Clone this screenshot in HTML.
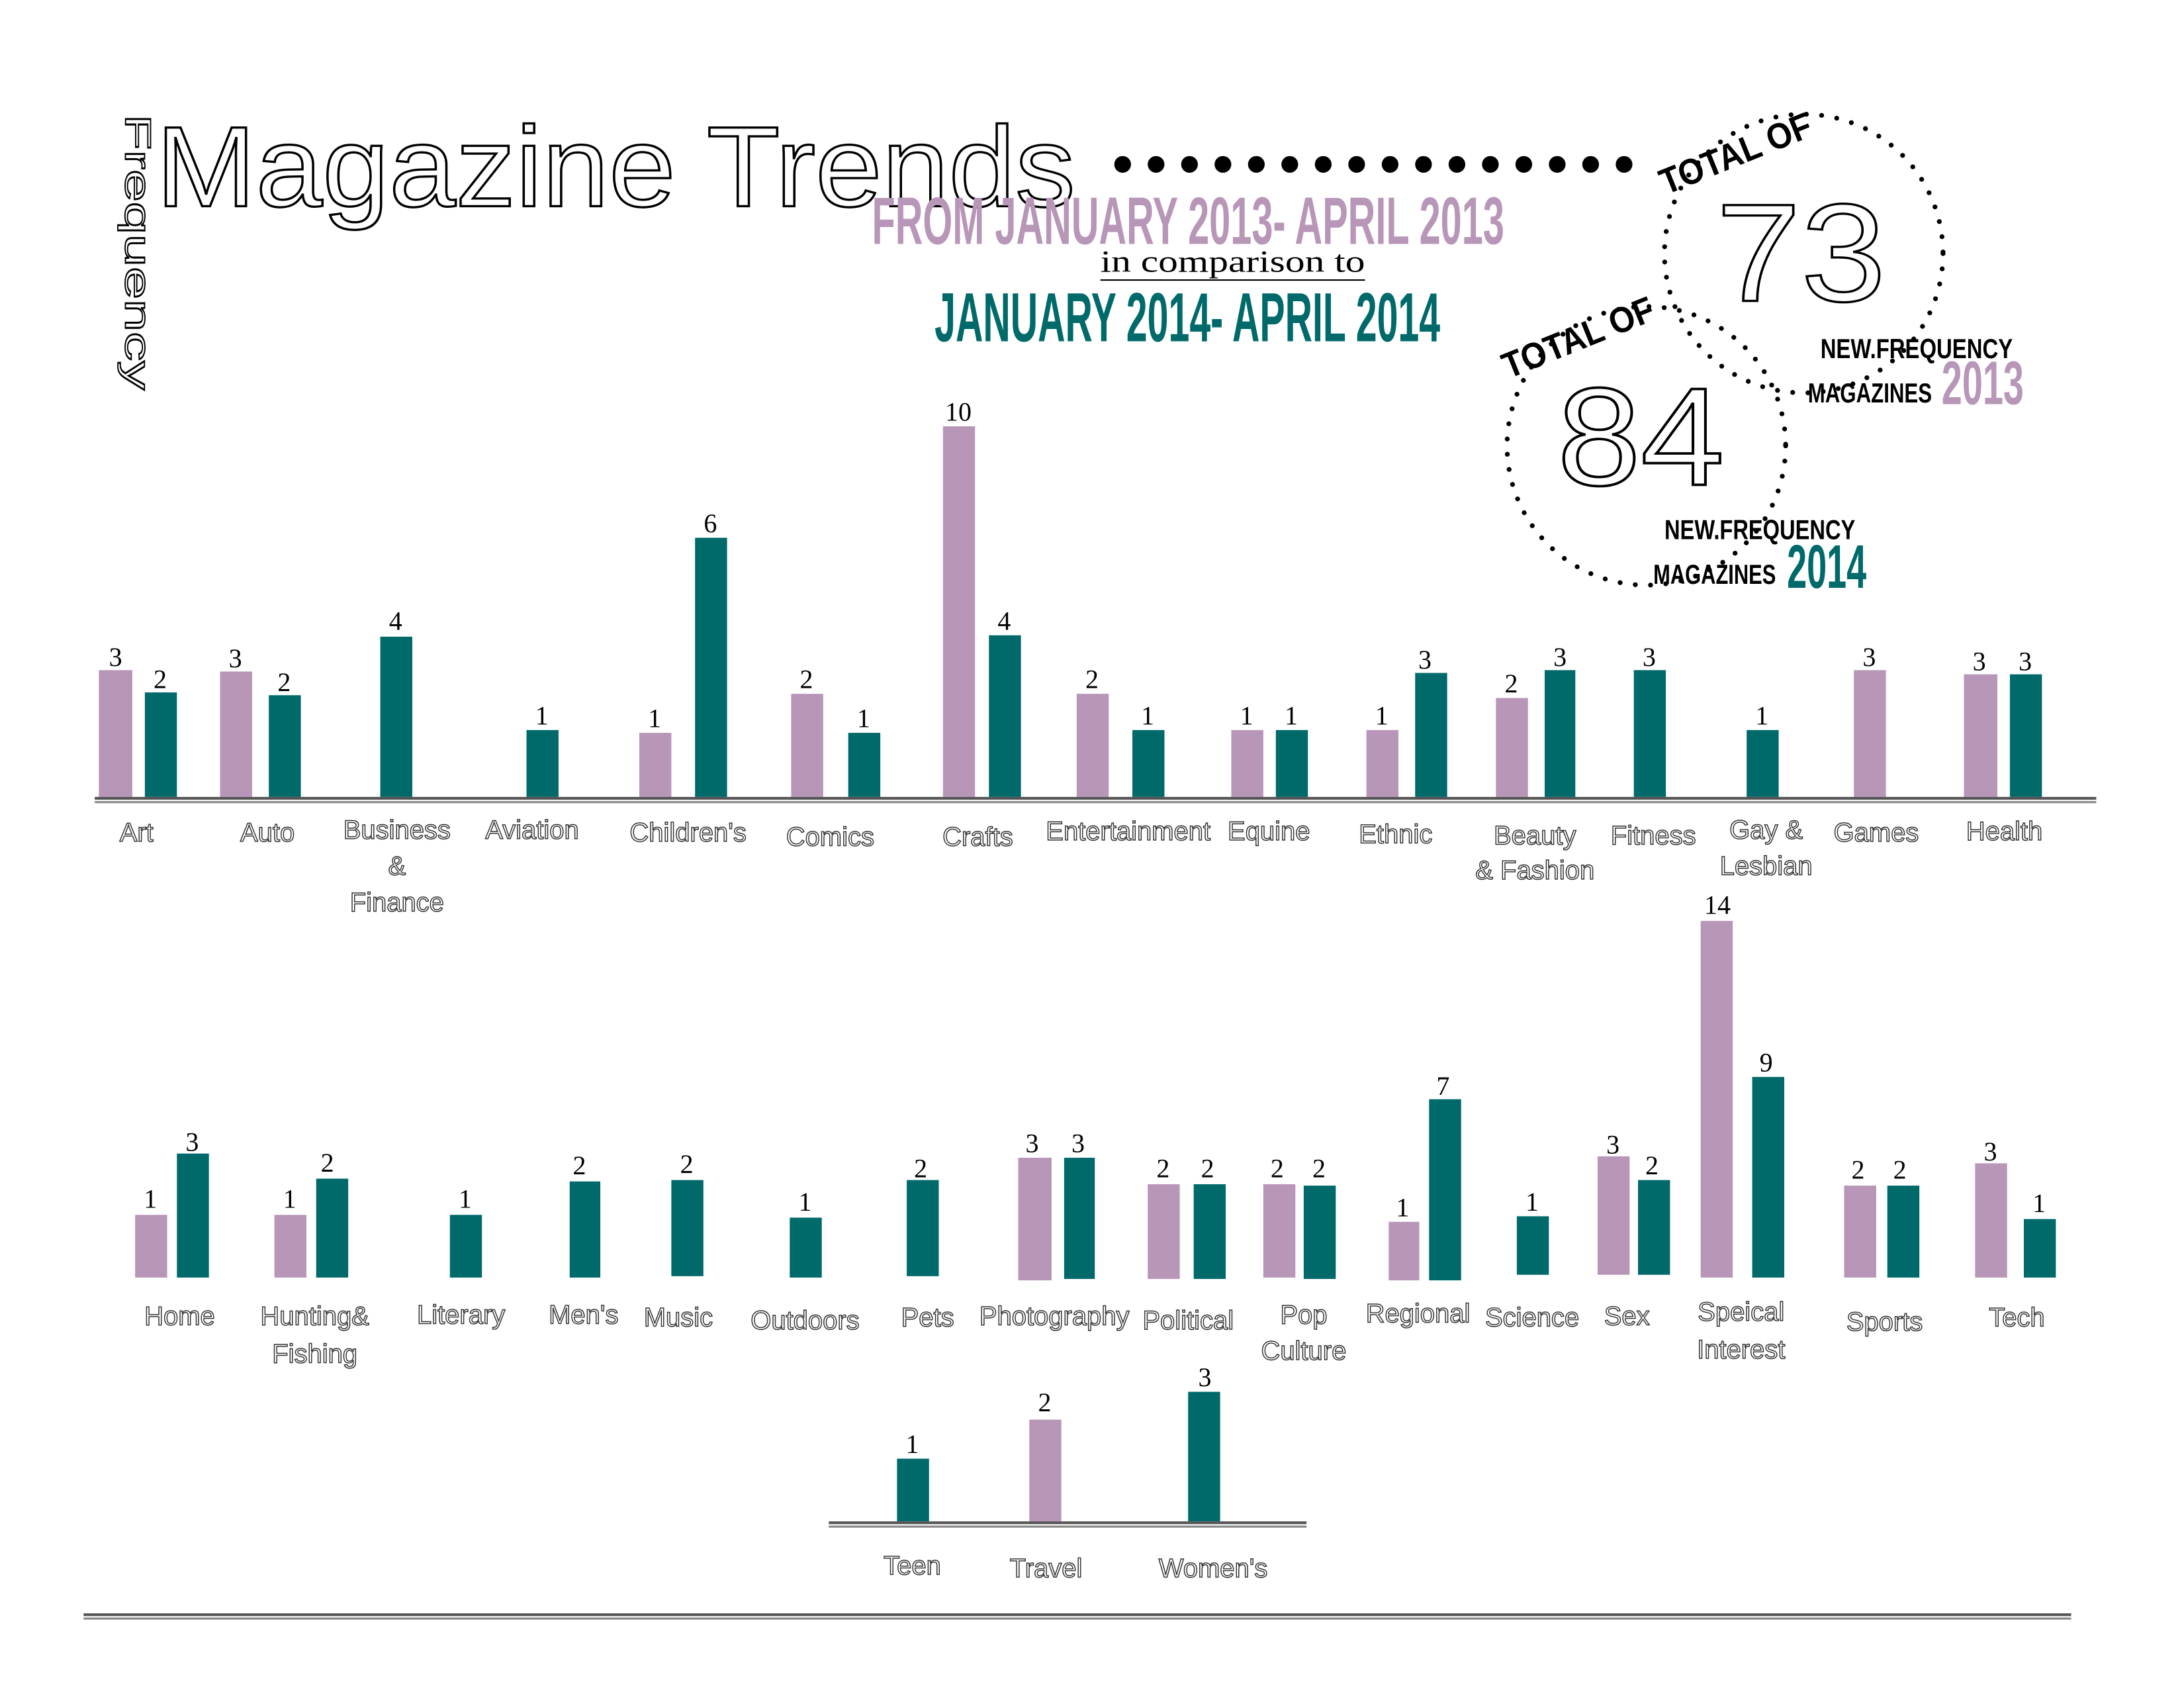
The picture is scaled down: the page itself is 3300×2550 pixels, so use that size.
<!DOCTYPE html>
<html><head><meta charset="utf-8"><style>
html,body{margin:0;padding:0;background:#fff;}
svg{display:block;}
.v{font-family:"Liberation Serif",serif;font-size:19px;fill:#000;text-anchor:middle;}
.c{font-family:"Liberation Sans",sans-serif;font-size:19px;fill:#fff;stroke:#333;stroke-width:0.7;text-anchor:middle;}
.p{fill:#b896b8;}
.t{fill:#00696a;}
.hd{font-family:"Liberation Sans",sans-serif;font-weight:bold;}
</style></head><body>
<svg width="3300" height="2550" viewBox="0 0 1568 1211.6" preserveAspectRatio="none" xmlns="http://www.w3.org/2000/svg">
<rect width="1568" height="1212" fill="#fff"/>
<!-- Title -->
<text x="112" y="148" font-family="Liberation Sans,sans-serif" font-size="82" fill="none" stroke="#000" stroke-width="1.6" textLength="660" lengthAdjust="spacingAndGlyphs">Magazine Trends</text>
<text transform="translate(90,82) rotate(90)" font-family="Liberation Sans,sans-serif" font-size="26" fill="none" stroke="#000" stroke-width="0.9" textLength="198" lengthAdjust="spacingAndGlyphs">Frequency</text>
<g fill="#000">
<circle cx="806" cy="118" r="6"/><circle cx="830" cy="118" r="6"/><circle cx="854" cy="118" r="6"/><circle cx="878" cy="118" r="6"/><circle cx="902" cy="118" r="6"/><circle cx="926" cy="118" r="6"/><circle cx="950" cy="118" r="6"/><circle cx="974" cy="118" r="6"/><circle cx="998" cy="118" r="6"/><circle cx="1022" cy="118" r="6"/><circle cx="1046" cy="118" r="6"/><circle cx="1070" cy="118" r="6"/><circle cx="1094" cy="118" r="6"/><circle cx="1118" cy="118" r="6"/><circle cx="1142" cy="118" r="6"/><circle cx="1166" cy="118" r="6"/>
</g>
<text x="626" y="175" class="hd" font-size="48" fill="#b896b8" textLength="454" lengthAdjust="spacingAndGlyphs">FROM JANUARY 2013- APRIL 2013</text>
<text x="790" y="195" font-family="Liberation Serif,serif" font-size="22" fill="#000" textLength="190" lengthAdjust="spacingAndGlyphs">in comparison to</text>
<line x1="790" y1="201" x2="980" y2="201" stroke="#000" stroke-width="1"/>
<text x="671" y="245" class="hd" font-size="50" fill="#00696a" textLength="363" lengthAdjust="spacingAndGlyphs">JANUARY 2014- APRIL 2014</text>
<!-- circles -->
<circle cx="1295" cy="182" r="100" fill="none" stroke="#000" stroke-width="3.5" stroke-dasharray="0 11" stroke-linecap="round"/>
<circle cx="1182" cy="320" r="100" fill="none" stroke="#000" stroke-width="3.5" stroke-dasharray="0 11" stroke-linecap="round"/>
<text transform="translate(1196,140) rotate(-22)" class="hd" font-size="26" fill="#000" textLength="115" lengthAdjust="spacingAndGlyphs">TOTAL OF</text>
<text transform="translate(1083,272) rotate(-22)" class="hd" font-size="26" fill="#000" textLength="115" lengthAdjust="spacingAndGlyphs">TOTAL OF</text>
<text x="1232" y="216" font-family="Liberation Sans,sans-serif" font-size="100" fill="none" stroke="#000" stroke-width="1.6" textLength="122" lengthAdjust="spacingAndGlyphs">73</text>
<text x="1118" y="348" font-family="Liberation Sans,sans-serif" font-size="100" fill="none" stroke="#000" stroke-width="1.8" textLength="120" lengthAdjust="spacingAndGlyphs">84</text>
<text x="1307" y="257" class="hd" font-size="20" fill="#000" textLength="138" lengthAdjust="spacingAndGlyphs">NEW.FREQUENCY</text>
<text x="1298" y="289" class="hd" font-size="20" fill="#000" textLength="89" lengthAdjust="spacingAndGlyphs">MAGAZINES</text>
<text x="1394" y="290" class="hd" font-size="44" fill="#b896b8" textLength="59" lengthAdjust="spacingAndGlyphs">2013</text>
<text x="1195" y="387" class="hd" font-size="20" fill="#000" textLength="137" lengthAdjust="spacingAndGlyphs">NEW.FREQUENCY</text>
<text x="1187" y="419" class="hd" font-size="20" fill="#000" textLength="88" lengthAdjust="spacingAndGlyphs">MAGAZINES</text>
<text x="1283" y="422" class="hd" font-size="44" fill="#00696a" textLength="57" lengthAdjust="spacingAndGlyphs">2014</text>

<!-- Row 1 -->
<g>
<rect class="p" x="71" y="481" width="24" height="91"/><rect class="t" x="104" y="497" width="23" height="75"/>
<rect class="p" x="158" y="482" width="23" height="90"/><rect class="t" x="193" y="499" width="23" height="73"/>
<rect class="t" x="273" y="457" width="23" height="115"/>
<rect class="t" x="378" y="524" width="23" height="48"/>
<rect class="p" x="459" y="526" width="23" height="46"/><rect class="t" x="499" y="386" width="23" height="186"/>
<rect class="p" x="568" y="498" width="23" height="74"/><rect class="t" x="609" y="526" width="23" height="46"/>
<rect class="p" x="677" y="306" width="23" height="266"/><rect class="t" x="710" y="456" width="23" height="116"/>
<rect class="p" x="773" y="498" width="23" height="74"/><rect class="t" x="813" y="524" width="23" height="48"/>
<rect class="p" x="884" y="524" width="23" height="48"/><rect class="t" x="916" y="524" width="23" height="48"/>
<rect class="p" x="981" y="524" width="23" height="48"/><rect class="t" x="1016" y="483" width="23" height="89"/>
<rect class="p" x="1074" y="501" width="23" height="71"/><rect class="t" x="1109" y="481" width="22" height="91"/>
<rect class="t" x="1173" y="481" width="23" height="91"/>
<rect class="t" x="1254" y="524" width="23" height="48"/>
<rect class="p" x="1331" y="481" width="23" height="91"/>
<rect class="p" x="1410" y="484" width="24" height="88"/><rect class="t" x="1443" y="484" width="23" height="88"/>
</g>
<rect x="68" y="572" width="1437" height="2" fill="#555"/>
<rect x="68" y="575" width="1437" height="1.5" fill="#888"/>
<g class="v">
<text x="83" y="478">3</text><text x="115" y="494">2</text>
<text x="169" y="479">3</text><text x="204" y="496">2</text>
<text x="284" y="452">4</text><text x="389" y="520">1</text>
<text x="470" y="522">1</text><text x="510" y="382">6</text>
<text x="579" y="494">2</text><text x="620" y="522">1</text>
<text x="688" y="302">10</text><text x="721" y="452">4</text>
<text x="784" y="494">2</text><text x="824" y="520">1</text>
<text x="895" y="520">1</text><text x="927" y="520">1</text>
<text x="992" y="520">1</text><text x="1023" y="480">3</text>
<text x="1085" y="497">2</text><text x="1120" y="478">3</text>
<text x="1184" y="478">3</text><text x="1265" y="520">1</text>
<text x="1342" y="478">3</text><text x="1421" y="481">3</text><text x="1454" y="481">3</text>
</g>
<g class="c">
<text x="98" y="604">Art</text><text x="192" y="604">Auto</text>
<text x="285" y="602">Business</text><text x="285" y="628">&amp;</text><text x="285" y="654">Finance</text>
<text x="382" y="602">Aviation</text><text x="494" y="604">Children's</text><text x="596" y="607">Comics</text>
<text x="702" y="607">Crafts</text><text x="810" y="603">Entertainment</text><text x="911" y="603">Equine</text>
<text x="1002" y="605">Ethnic</text><text x="1102" y="606">Beauty</text><text x="1102" y="631">&amp; Fashion</text>
<text x="1187" y="606">Fitness</text><text x="1268" y="602">Gay &amp;</text><text x="1268" y="628">Lesbian</text>
<text x="1347" y="604">Games</text><text x="1439" y="603">Health</text>
</g>

<!-- Row 2 -->
<g>
<rect class="p" x="97" y="872" width="23" height="45"/><rect class="t" x="127" y="828" width="23" height="89"/>
<rect class="p" x="197" y="872" width="23" height="45"/><rect class="t" x="227" y="846" width="23" height="71"/>
<rect class="t" x="323" y="872" width="23" height="45"/>
<rect class="t" x="409" y="848" width="22" height="69"/>
<rect class="t" x="482" y="847" width="23" height="69"/>
<rect class="t" x="567" y="874" width="23" height="43"/>
<rect class="t" x="651" y="847" width="23" height="69"/>
<rect class="p" x="731" y="831" width="24" height="88"/><rect class="t" x="764" y="831" width="22" height="87"/>
<rect class="p" x="824" y="850" width="23" height="68"/><rect class="t" x="857" y="850" width="23" height="68"/>
<rect class="p" x="907" y="850" width="23" height="67"/><rect class="t" x="936" y="851" width="23" height="67"/>
<rect class="p" x="997" y="877" width="22" height="42"/><rect class="t" x="1026" y="789" width="23" height="130"/>
<rect class="t" x="1089" y="873" width="23" height="42"/>
<rect class="p" x="1147" y="830" width="23" height="85"/><rect class="t" x="1176" y="847" width="23" height="68"/>
<rect class="p" x="1221" y="661" width="23" height="256"/><rect class="t" x="1258" y="773" width="23" height="144"/>
<rect class="p" x="1324" y="851" width="23" height="66"/><rect class="t" x="1355" y="851" width="23" height="66"/>
<rect class="p" x="1418" y="835" width="23" height="82"/><rect class="t" x="1453" y="875" width="23" height="42"/>
</g>
<g class="v">
<text x="108" y="867">1</text><text x="138" y="826">3</text>
<text x="208" y="867">1</text><text x="235" y="841">2</text>
<text x="334" y="867">1</text><text x="416" y="843">2</text><text x="493" y="842">2</text>
<text x="578" y="869">1</text><text x="661" y="845">2</text>
<text x="741" y="827">3</text><text x="774" y="827">3</text>
<text x="835" y="845">2</text><text x="867" y="845">2</text>
<text x="917" y="845">2</text><text x="947" y="845">2</text>
<text x="1007" y="873">1</text><text x="1036" y="786">7</text>
<text x="1100" y="869">1</text><text x="1158" y="828">3</text><text x="1186" y="843">2</text>
<text x="1233" y="656">14</text><text x="1268" y="769">9</text>
<text x="1334" y="846">2</text><text x="1364" y="846">2</text>
<text x="1429" y="833">3</text><text x="1464" y="870">1</text>
</g>
<g class="c">
<text x="129" y="951">Home</text><text x="226" y="951">Hunting&amp;</text><text x="226" y="978">Fishing</text>
<text x="331" y="950">Literary</text><text x="419" y="950">Men's</text><text x="487" y="952">Music</text>
<text x="578" y="954">Outdoors</text><text x="666" y="952">Pets</text><text x="757" y="951">Photography</text>
<text x="853" y="954">Political</text><text x="936" y="950">Pop</text><text x="936" y="976">Culture</text>
<text x="1018" y="949">Regional</text><text x="1100" y="952">Science</text><text x="1168" y="951">Sex</text>
<text x="1250" y="948">Speical</text><text x="1250" y="975">Interest</text>
<text x="1353" y="955">Sports</text><text x="1448" y="952">Tech</text>
</g>

<!-- Row 3 -->
<rect class="t" x="644" y="1047" width="23" height="45"/>
<rect class="p" x="739" y="1019" width="23" height="73"/>
<rect class="t" x="853" y="999" width="23" height="93"/>
<rect x="595" y="1092" width="343" height="2" fill="#555"/>
<rect x="595" y="1095" width="343" height="1.5" fill="#888"/>
<g class="v"><text x="655" y="1043">1</text><text x="750" y="1013">2</text><text x="865" y="995">3</text></g>
<g class="c"><text x="655" y="1130">Teen</text><text x="751" y="1132">Travel</text><text x="871" y="1132">Women's</text></g>

<rect x="60" y="1158" width="1427" height="2" fill="#555"/>
<rect x="60" y="1161" width="1427" height="1.5" fill="#888"/>
</svg>
</body></html>
